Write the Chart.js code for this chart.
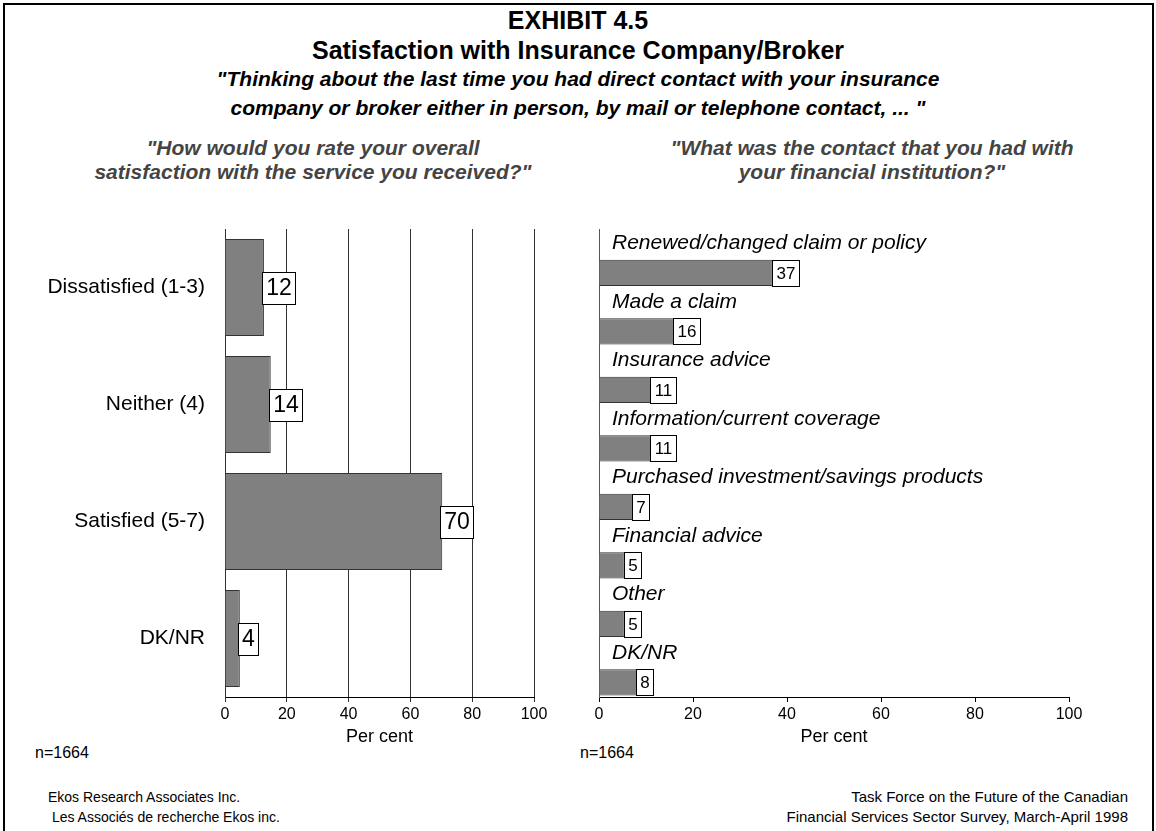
<!DOCTYPE html>
<html>
<head>
<meta charset="utf-8">
<script src="https://cdn.jsdelivr.net/npm/chart.js@4.4.1/dist/chart.umd.min.js"></script>
<style>
  html, body { margin:0; padding:0; background:#fff; }
  #wrap { position:relative; width:1156px; height:831px; overflow:hidden; background:#fff;
          font-family: "Liberation Sans", Arial, Helvetica, sans-serif; color:#000; }
  #frame { position:absolute; left:3px; top:3px; width:1147px; height:900px; border:2px solid #000; }
  .t { position:absolute; white-space:nowrap; }
  .c { text-align:center; }
  canvas { position:absolute; }
</style>
</head>
<body>
<div id="wrap">
  <div id="frame"></div>
  <div class="t c" style="left:0;width:1156px;top:5px;line-height:30px;font-size:25px;font-weight:bold;">EXHIBIT 4.5</div>
  <div class="t c" style="left:0;width:1156px;top:35px;line-height:30px;font-size:25px;font-weight:bold;">Satisfaction with Insurance Company/Broker</div>
  <div class="t c" style="left:0;width:1156px;top:66px;line-height:26px;font-size:21px;font-weight:bold;font-style:italic;">"Thinking about the last time you had direct contact with your insurance</div>
  <div class="t c" style="left:0;width:1156px;top:95px;line-height:26px;font-size:21px;font-weight:bold;font-style:italic;">company or broker either in person, by mail or telephone contact, ... "</div>
  <div class="t c" style="left:63px;width:500px;top:136px;line-height:24px;font-size:21px;font-weight:bold;font-style:italic;color:#444;">"How would you rate your overall<br>satisfaction with the service you received?"</div>
  <div class="t c" style="left:622px;width:500px;top:136px;line-height:24px;font-size:21px;font-weight:bold;font-style:italic;color:#444;">"What was the contact that you had with<br>your financial institution?"</div>
  <div class="t" style="left:35px;top:743px;line-height:20px;font-size:16px;">n=1664</div>
  <div class="t" style="left:580px;top:743px;line-height:20px;font-size:16px;">n=1664</div>
  <div class="t" style="left:48px;top:787px;line-height:20px;font-size:14px;">Ekos Research Associates Inc.<br>&nbsp;Les Associés de recherche Ekos inc.</div>
  <div class="t" style="right:28px;top:787px;line-height:20px;font-size:15px;text-align:right;">Task Force on the Future of the Canadian<br>Financial Services Sector Survey, March-April 1998</div>
  <canvas id="left" width="560" height="540" style="left:0;top:215px;"></canvas>
  <canvas id="right" width="560" height="540" style="left:560px;top:215px;"></canvas>
</div>
<script>
// ---- Data ----
const leftCategories = ["Dissatisfied (1-3)", "Neither (4)", "Satisfied (5-7)", "DK/NR"];
const leftValues = [12.6, 14.8, 70.3, 4.8];
const leftValueLabels = ["12", "14", "70", "4"];

const rightCategories = [
  "Renewed/changed claim or policy",
  "Made a claim",
  "Insurance advice",
  "Information/current coverage",
  "Purchased investment/savings products",
  "Financial advice",
  "Other",
  "DK/NR"
];
const rightValues = [37, 16, 11.1, 11.1, 7.3, 5.5, 5.5, 8.1];
const rightValueLabels = ["37", "16", "11", "11", "7", "5", "5", "8"];

const axisMin = 0;
const axisMax = 100;
const axisStep = 20;
const axisTitle = "Per cent";

const FONT = "'Liberation Sans', Arial, Helvetica, sans-serif";
const BAR_FILL = "#808080";
const BAR_EDGE = "#333333";

// ---- value-box plugin ----
const boxPlugin = {
  id: 'valueBoxes',
  afterDatasetsDraw(chart, args, opts) {
    const meta = chart.getDatasetMeta(opts.datasetIndex);
    const ctx = chart.ctx;
    ctx.save();
    ctx.font = opts.font;
    ctx.textBaseline = 'middle';
    ctx.textAlign = 'center';
    meta.data.forEach((bar, i) => {
      const p = bar.getProps(['x', 'y', 'height'], true);
      const txt = opts.labels[i];
      const tw = ctx.measureText(txt).width;
      const h = Math.round(opts.boxHeight ? opts.boxHeight : p.height);
      const w = Math.round(tw + opts.padX);
      const x0 = Math.round(p.x + opts.shift) + 0.5;
      const y0 = Math.round(p.y - h / 2) + 0.5;
      ctx.fillStyle = '#fff';
      ctx.fillRect(x0, y0, w, h);
      ctx.strokeStyle = '#000';
      ctx.lineWidth = 1;
      ctx.strokeRect(x0, y0, w, h);
      ctx.fillStyle = '#000';
      ctx.fillText(txt, x0 + w / 2, p.y + 1);
    });
    ctx.restore();
  }
};

function noPad(scale) {
  scale.paddingTop = 0; scale.paddingBottom = 0;
  scale.paddingLeft = 0; scale.paddingRight = 0;
}

Chart.defaults.font.family = FONT;
Chart.defaults.color = '#000';

// ---- Left chart ----
new Chart(document.getElementById('left'), {
  type: 'bar',
  data: {
    labels: leftCategories,
    datasets: [{
      data: leftValues,
      backgroundColor: BAR_FILL,
      borderColor: BAR_EDGE,
      borderWidth: 1,
      barPercentage: 0.83,
      categoryPercentage: 1.0
    }]
  },
  plugins: [boxPlugin],
  options: {
    indexAxis: 'y',
    responsive: false,
    animation: false,
    devicePixelRatio: 1,
    layout: { padding: { top: 14, right: 26, left: 0, bottom: 0 } },
    plugins: {
      legend: { display: false },
      tooltip: { enabled: false },
      valueBoxes: { datasetIndex: 0, labels: leftValueLabels, font: "23px " + FONT, padX: 7, shift: -2, boxHeight: 32 }
    },
    scales: {
      x: {
        min: axisMin, max: axisMax,
        ticks: { stepSize: axisStep, font: { size: 16 }, padding: 3, color: '#000' },
        grid: { color: '#333', lineWidth: 1, drawOnChartArea: true, drawTicks: true, tickLength: 5 },
        border: { display: true, color: '#000', width: 1 },
        title: { display: true, text: axisTitle, font: { size: 18 }, padding: { top: 0, bottom: 7 }, color: '#000' },
        afterFit(scale) { scale.height = 58; noPad(scale); }
      },
      y: {
        ticks: { font: { size: 21 }, padding: 20, color: '#000', autoSkip: false },
        grid: { display: false, drawTicks: false },
        border: { display: true, color: '#333', width: 1 },
        afterFit(scale) { scale.width = 225; noPad(scale); }
      }
    }
  }
});

// ---- Right chart ----
new Chart(document.getElementById('right'), {
  type: 'bar',
  data: {
    labels: rightCategories,
    datasets: [
      { data: rightCategories.map(() => null), backgroundColor: 'rgba(0,0,0,0)', borderWidth: 0,
        barPercentage: 0.9, categoryPercentage: 1.0 },
      { data: rightValues, backgroundColor: BAR_FILL, borderColor: BAR_EDGE, borderWidth: 1,
        barPercentage: 0.9, categoryPercentage: 1.0 }
    ]
  },
  plugins: [boxPlugin],
  options: {
    indexAxis: 'y',
    responsive: false,
    animation: false,
    devicePixelRatio: 1,
    layout: { padding: { top: 14, right: 51, left: 0, bottom: 0 } },
    plugins: {
      legend: { display: false },
      tooltip: { enabled: false },
      valueBoxes: { datasetIndex: 1, labels: rightValueLabels, font: "17px " + FONT, padX: 8, shift: -1 }
    },
    scales: {
      x: {
        min: axisMin, max: axisMax,
        ticks: { stepSize: axisStep, font: { size: 16 }, padding: 3, color: '#000' },
        grid: { color: '#000', lineWidth: 1, drawOnChartArea: false, drawTicks: true, tickLength: 5 },
        border: { display: true, color: '#000', width: 1 },
        title: { display: true, text: axisTitle, font: { size: 18 }, padding: { top: 0, bottom: 7 }, color: '#000' },
        afterFit(scale) { scale.height = 58; noPad(scale); }
      },
      y: {
        ticks: { mirror: true, padding: 13, labelOffset: -15, font: { size: 21, style: 'italic' }, color: '#000', autoSkip: false },
        grid: { display: false, drawTicks: false },
        border: { display: true, color: '#555', width: 1 },
        afterFit(scale) { scale.width = 39; noPad(scale); }
      }
    }
  }
});
</script>
</body>
</html>
